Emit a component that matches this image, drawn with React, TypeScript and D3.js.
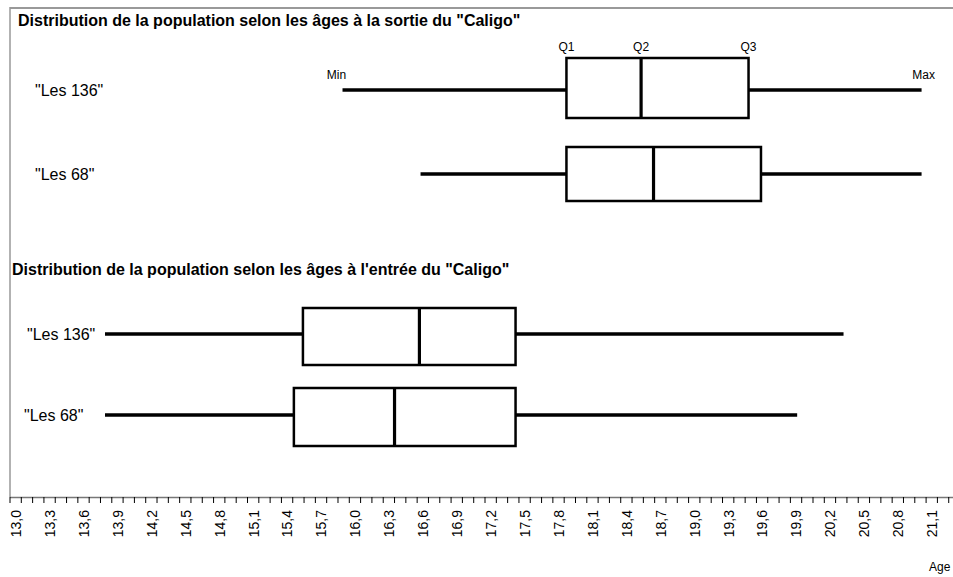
import React from "react";
import * as d3 from "d3";

const categories = ['"Les 136"', '"Les 68"'];

const sortieMin = [15.94, 16.63];
const sortieQ1 = [17.92, 17.92];
const sortieMed = [18.58, 18.69];
const sortieQ3 = [19.53, 19.64];
const sortieMax = [21.06, 21.06];

const entreeMin = [13.84, 13.84];
const entreeQ1 = [15.59, 15.51];
const entreeMed = [16.62, 16.4];
const entreeQ3 = [17.47, 17.47];
const entreeMax = [20.37, 19.96];

const titleTop = 'Distribution de la population selon les âges à la sortie du "Caligo"';
const titleBottom = "Distribution de la population selon les âges à l'entrée du \"Caligo\"";
const axisTitle = "Age";
const minorTicks = d3.range(0, 84).map((i) => 13 + i * 0.1);
const labelTicks = d3.range(0, 28).map((i) => 13 + i * 0.3);

const W = 953;
const H = 577;
const FONT = "'Liberation Sans', Arial, Helvetica, sans-serif";

export default function App() {
  const x = d3.scaleLinear().domain([13, 21.1]).range([10, 926.1]);
  const fmt = (v: number) => d3.format(".1f")(v).replace(".", ",");

  const topRows = [
    { y: 90, boxTop: 58, boxBot: 118, labelX: 35 },
    { y: 174, boxTop: 147, boxBot: 201, labelX: 35 },
  ];
  const botRows = [
    { y: 334, boxTop: 308, boxBot: 365, labelX: 27 },
    { y: 415, boxTop: 388, boxBot: 446, labelX: 24 },
  ];

  const renderBox = (
    key: string,
    row: { y: number; boxTop: number; boxBot: number; labelX: number },
    label: string,
    mn: number,
    q1: number,
    md: number,
    q3: number,
    mx: number
  ) => (
    <g key={key}>
      <text x={row.labelX} y={row.y} dy="0.35em" fontSize={16} fontFamily={FONT} fill="#000">
        {label}
      </text>
      <line x1={x(mn)} x2={x(q1)} y1={row.y} y2={row.y} stroke="#000" strokeWidth={3.5} />
      <line x1={x(q3)} x2={x(mx)} y1={row.y} y2={row.y} stroke="#000" strokeWidth={3.5} />
      <rect
        x={x(q1)}
        y={row.boxTop}
        width={x(q3) - x(q1)}
        height={row.boxBot - row.boxTop}
        fill="#fff"
        stroke="#000"
        strokeWidth={2.5}
      />
      <line x1={x(md)} x2={x(md)} y1={row.boxTop} y2={row.boxBot} stroke="#000" strokeWidth={3.2} />
    </g>
  );

  return (
    <svg
      width={W}
      height={H}
      style={{ position: "absolute", left: 0, top: 0, background: "#fff" }}
    >
      <defs>
        <linearGradient id="divGrad" x1="0" x2="1" y1="0" y2="0">
          <stop offset="0" stopColor="#111" />
          <stop offset="0.5" stopColor="#555" />
          <stop offset="1" stopColor="#888" />
        </linearGradient>
      </defs>
      <rect x={0} y={0} width={W} height={H} fill="#fff" />
      {/* frame */}
      <line x1={10} x2={W} y1={8} y2={8} stroke="#999" strokeWidth={2} />
      <line x1={10} x2={10} y1={7} y2={497} stroke="#999" strokeWidth={1.5} />
      <line x1={10} x2={W} y1={248.5} y2={248.5} stroke="url(#divGrad)" strokeWidth={1.8} />

      <text x={18} y={20} dy="0.35em" fontSize={16} fontWeight="bold" fontFamily={FONT}>
        {titleTop}
      </text>
      <text x={12} y={269} dy="0.35em" fontSize={16} fontWeight="bold" fontFamily={FONT}>
        {titleBottom}
      </text>

      {/* top annotations */}
      <text x={x(sortieQ1[0])} y={47} dy="0.35em" textAnchor="middle" fontSize={12} fontFamily={FONT}>Q1</text>
      <text x={x(sortieMed[0])} y={47} dy="0.35em" textAnchor="middle" fontSize={12} fontFamily={FONT}>Q2</text>
      <text x={x(sortieQ3[0])} y={47} dy="0.35em" textAnchor="middle" fontSize={12} fontFamily={FONT}>Q3</text>
      <text x={x(sortieMin[0]) - 6} y={75} dy="0.35em" textAnchor="middle" fontSize={12} fontFamily={FONT}>Min</text>
      <text x={x(sortieMax[0]) + 2} y={75} dy="0.35em" textAnchor="middle" fontSize={12} fontFamily={FONT}>Max</text>

      {categories.map((c, i) =>
        renderBox("t" + i, topRows[i], c, sortieMin[i], sortieQ1[i], sortieMed[i], sortieQ3[i], sortieMax[i])
      )}
      {categories.map((c, i) =>
        renderBox("b" + i, botRows[i], c, entreeMin[i], entreeQ1[i], entreeMed[i], entreeQ3[i], entreeMax[i])
      )}

      {/* axis */}
      <line x1={10} x2={W} y1={497.5} y2={497.5} stroke="#777" strokeWidth={1.5} />
      {minorTicks.map((t, i) => (
        <line key={"mt" + i} x1={x(t)} x2={x(t)} y1={497} y2={503} stroke="#000" strokeWidth={1} />
      ))}
      {labelTicks.map((t, i) => (
        <text
          key={"lt" + i}
          transform={`translate(${x(t) + 6},${510}) rotate(-90)`}
          textAnchor="end"
          dominantBaseline="central"
          fontSize={14}
          fontFamily={FONT}
        >
          {fmt(t)}
        </text>
      ))}
      <text x={929} y={567} dy="0.35em" fontSize={12} fontFamily={FONT}>
        {axisTitle}
      </text>
    </svg>
  );
}
